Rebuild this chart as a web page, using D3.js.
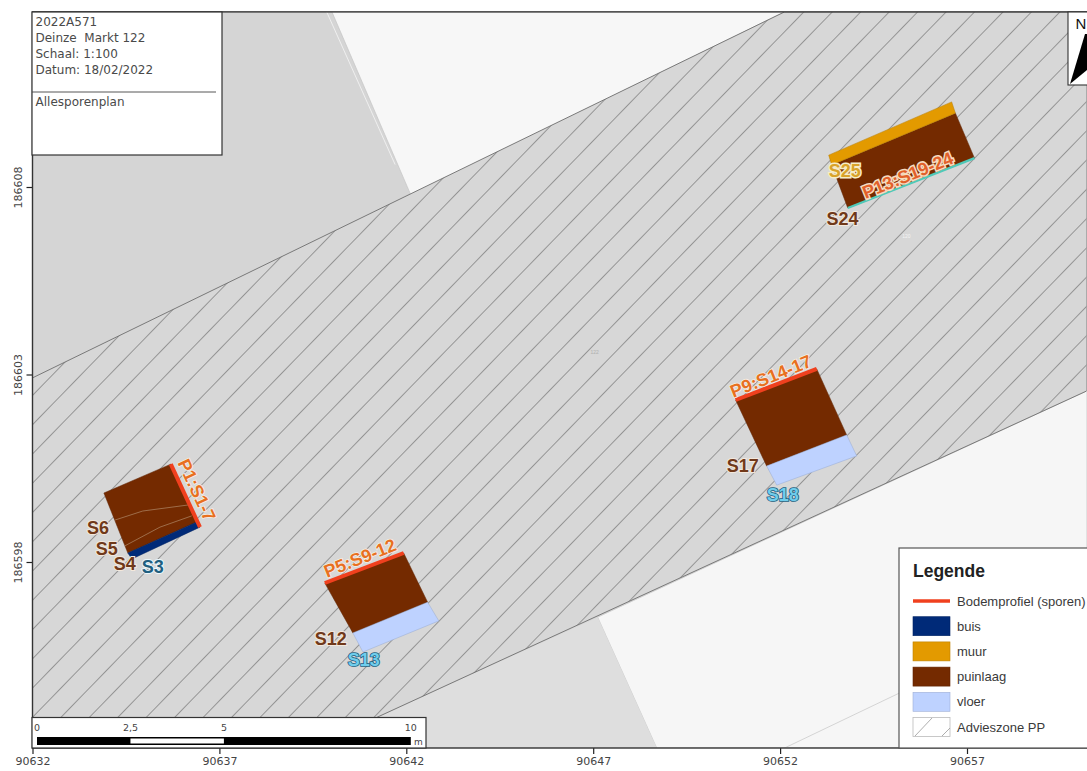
<!DOCTYPE html>
<html>
<head>
<meta charset="utf-8">
<script src="https://cdn.jsdelivr.net/npm/d3@7"></script>
<style>
  body { margin: 0; background: white; overflow: hidden; }
</style>
</head>
<body>
<div id="mapAttatch"></div>
<script>
// tick values (Lambert coordinates, metres)
const xTicks = [90632, 90637, 90642, 90647, 90652, 90657]
const yTicks = [186598, 186603, 186608]

// map extent
const west = 90632, east = 90660.2, south = 186593.04, north = 186612.67

// parcels and zones, all [x, y] in map coordinates
const adviceZone = [[west, 186602.91], [90652.12, north], [east, north], [east, 186602.56], [90641.24, 186593.87], [90639.42, south], [west, south]]
const whiteTop = [[90640.01, north], [90652.12, north], [90642.12, 186607.79]]
const whiteBottom = [[90647.12, 186596.53], [east, 186602.56], [east, south], [90648.70, south]]
const greyBottom = [[90639.42, south], [90647.12, 186596.53], [90648.70, south]]
const parcelLine = [[90652.12, south], [90655.2, 186594.51], [90658, 186595.8]]
const parcelLine2 = [[90639.87, north], [90641.7, 186608.6]]

// excavated features per trench
const puinlaag = [
    [[90633.91, 186599.84], [90635.70, 186600.61], [90636.40, 186599.07], [90634.55, 186598.24]],
    [[90639.82, 186597.44], [90641.93, 186598.24], [90642.57, 186596.93], [90640.57, 186596.11]],
    [[90650.81, 186602.32], [90652.98, 186603.15], [90653.78, 186601.39], [90651.64, 186600.56]],
    [[90653.38, 186608.59], [90656.69, 186609.97], [90657.20, 186608.77], [90653.81, 186607.44]]
]
const buis = [
    [[90634.55, 186598.24], [90636.40, 186599.07], [90636.48, 186598.93], [90634.66, 186598.08]]
]
const muur = [
    [[90653.30, 186608.85], [90656.59, 186610.27], [90656.69, 186609.97], [90653.38, 186608.59]]
]
const vloer = [
    [[90640.57, 186596.11], [90642.57, 186596.93], [90642.87, 186596.43], [90640.84, 186595.60]],
    [[90651.64, 186600.56], [90653.78, 186601.39], [90654.05, 186600.83], [90651.91, 186600.05]]
]
const profiles = [
    [[90635.70, 186600.61], [90636.48, 186598.93]],
    [[90639.82, 186597.44], [90641.93, 186598.24]],
    [[90650.81, 186602.32], [90652.98, 186603.15]]
]
const s24Line = [[90653.81, 186607.44], [90657.20, 186608.77]]
const s5s6Lines = [
    [[90634.21, 186599.12], [90634.95, 186599.36], [90636.16, 186599.52]],
    [[90634.47, 186598.43], [90635.41, 186598.93], [90636.26, 186599.23]]
]

// labels
const labelNames = ["P1:S1-7", "S6", "S5", "S4", "S3", "P5:S9-12", "S12", "S13", "P9:S14-17", "S17", "S18", "P13:S19-24", "S25", "S24"]
const labelX = [90636.40, 90633.75, 90633.99, 90634.47, 90635.22, 90640.76, 90639.98, 90640.86, 90651.75, 90651.00, 90652.07, 90655.41, 90653.73, 90653.67]
const labelY = [186599.92, 186598.93, 186598.37, 186597.95, 186597.89, 186598.11, 186595.95, 186595.39, 186602.96, 186600.56, 186599.79, 186608.32, 186608.45, 186607.15]
const labelKinds = ["profile", "puin", "puin", "puin", "buis", "profile", "puin", "vloer", "profile", "puin", "vloer", "profile2", "muur", "puin"]

// legend + title block
const legendNames = ["Bodemprofiel (sporen)", "buis", "muur", "puinlaag", "vloer", "Advieszone PP"]
const titleLines = ["2022A571", "Deinze  Markt 122", "Schaal: 1:100", "Datum: 18/02/2022"]
const planName = "Allesporenplan"
const scaleBarTicks = [0, 2.5, 5, 10]

const colors = { profile: "#f0401e", buis: "#002a78", muur: "#e39a00", puin: "#742a00", vloer: "#bed2ff" }
const labelStyle = {
    profile: { fill: "#e8701f", stroke: "#f7efe4", sw: 1.5 },
    profile2: { fill: "#e2602a", stroke: "#f6dcc0", sw: 3 },
    puin: { fill: "#70391a", stroke: "#f3e8dc", sw: 2 },
    buis: { fill: "#1f5f80", stroke: "#eaf6fb", sw: 2 },
    vloer: { fill: "#6fcdec", stroke: "#22607f", sw: 1.6 },
    muur: { fill: "#d9a32a", stroke: "#f6ecc8", sw: 3 }
}
const labelAngle = { "P1:S1-7": 65, "P5:S9-12": -22, "P9:S14-17": -22, "P13:S19-24": -22 }

const svg = d3.select("#mapAttatch").append("svg")
    .attr("width", 1087)
    .attr("height", 771)
    .style("display", "block")
    .style("font-family", "'Liberation Sans', Arial, sans-serif")

const xScale = d3.scaleLinear().domain([90632, 90657]).range([32.5, 967])
const yScale = d3.scaleLinear().domain([186598, 186608]).range([562, 187])

const poly = d3.line().x(d => xScale(d[0])).y(d => yScale(d[1]))
const closed = pts => poly(pts) + "Z"

const frameL = xScale(west), frameR = xScale(east), frameT = yScale(north), frameB = yScale(south)

const defs = svg.append("defs")
defs.append("clipPath").attr("id", "frame-clip")
    .append("rect")
    .attr("x", frameL).attr("y", frameT)
    .attr("width", frameR - frameL).attr("height", frameB - frameT)

const hatch = defs.append("pattern")
    .attr("id", "hatch")
    .attr("patternUnits", "userSpaceOnUse")
    .attr("width", 20.4)
    .attr("height", 20.4)
    .attr("patternTransform", "translate(548,128) rotate(44.2)")
hatch.append("line")
    .attr("x1", 0).attr("x2", 0).attr("y1", 0).attr("y2", 20.4)
    .attr("stroke", "#858585")
    .attr("stroke-width", 1.6)

const map = svg.append("g").attr("clip-path", "url(#frame-clip)")

map.append("rect")
    .attr("x", frameL).attr("y", frameT)
    .attr("width", frameR - frameL).attr("height", frameB - frameT)
    .attr("fill", "#d5d5d5")

map.append("path").attr("d", closed(whiteTop)).attr("fill", "#f7f7f7").attr("stroke", "#c4c4c4").attr("stroke-width", 0.7)
map.append("path").attr("d", closed(whiteBottom)).attr("fill", "#f6f6f6").attr("stroke", "#c8c8c8").attr("stroke-width", 0.7)
map.append("path").attr("d", closed(greyBottom)).attr("fill", "#dedede")
map.append("path").attr("d", poly(parcelLine)).attr("fill", "none").attr("stroke", "#d4d4d4").attr("stroke-width", 1)
map.append("path").attr("d", poly(parcelLine2)).attr("fill", "none").attr("stroke", "#efefef").attr("stroke-width", 1)

map.append("path").attr("d", closed(adviceZone)).attr("fill", "#d7d7d7")
map.append("path").attr("d", closed(adviceZone))
    .attr("fill", "url(#hatch)")
    .attr("stroke", "#6e6e6e")
    .attr("stroke-width", 0.9)

// house numbers of the parcel layer
map.append("text").text("122")
    .attr("x", xScale(90647.04)).attr("y", yScale(186603.55))
    .attr("text-anchor", "middle").attr("font-size", 5).attr("fill", "#b0b0b0")
map.append("text").text("120")
    .attr("x", xScale(90655.38)).attr("y", yScale(186606.64))
    .attr("text-anchor", "middle").attr("font-size", 5).attr("fill", "#f4f4f4")

const drawPolys = (data, color) => {
    map.selectAll(null)
        .data(data)
        .join("path")
        .attr("d", closed)
        .attr("fill", color)
        .attr("stroke", d3.color(color).darker(0.6))
        .attr("stroke-width", 0.5)
}
drawPolys(puinlaag, colors.puin)
drawPolys(vloer, colors.vloer)
drawPolys(muur, colors.muur)
drawPolys(buis, colors.buis)

map.selectAll(null)
    .data(s5s6Lines)
    .join("path")
    .attr("d", poly)
    .attr("fill", "none")
    .attr("stroke", "#b08a68")
    .attr("stroke-width", 0.7)

map.append("path").attr("d", poly(s24Line)).attr("stroke", "#4fc9b8").attr("stroke-width", 2.2).attr("fill", "none")

map.selectAll(null)
    .data(profiles)
    .join("path")
    .attr("d", poly)
    .attr("fill", "none")
    .attr("stroke", colors.profile)
    .attr("stroke-width", 4)

// trench and feature labels
labelNames.forEach((name, i) => {
    const x = xScale(labelX[i]), y = yScale(labelY[i])
    const st = labelStyle[labelKinds[i]]
    map.append("text").text(name)
        .attr("x", x).attr("y", y)
        .attr("dy", "0.36em")
        .attr("text-anchor", "middle")
        .attr("transform", labelAngle[name] ? `rotate(${labelAngle[name]},${x},${y})` : null)
        .attr("font-size", 18)
        .attr("font-weight", "bold")
        .attr("fill", st.fill)
        .attr("stroke", st.stroke)
        .attr("stroke-width", st.sw)
        .style("paint-order", "stroke")
})

// axes
const xAxis = d3.axisBottom(xScale).tickValues(xTicks).tickFormat(d3.format("d")).tickSize(6).tickSizeOuter(0)
const yAxis = d3.axisLeft(yScale).tickValues(yTicks).tickFormat(d3.format("d")).tickSize(6).tickSizeOuter(0)

const xG = svg.append("g").attr("transform", `translate(0,${frameB})`).call(xAxis)
const yG = svg.append("g").attr("transform", `translate(${frameL},0)`).call(yAxis)
xG.select(".domain").remove()
yG.select(".domain").remove()
xG.selectAll("line").attr("stroke", "#222").attr("stroke-width", 1.2)
yG.selectAll("line").attr("stroke", "#222").attr("stroke-width", 1.2)
xG.selectAll("text")
    .attr("y", 9)
    .attr("font-family", "'DejaVu Sans', sans-serif")
    .attr("font-size", 11)
    .attr("fill", "#444")
yG.selectAll("text")
    .attr("x", 0).attr("y", 0)
    .attr("dy", 0)
    .attr("text-anchor", "middle")
    .attr("transform", "translate(-11,0) rotate(-90)")
    .attr("font-family", "'DejaVu Sans', sans-serif")
    .attr("font-size", 11)
    .attr("fill", "#444")

// frame
svg.append("rect")
    .attr("x", frameL).attr("y", frameT)
    .attr("width", frameR - frameL + 5).attr("height", frameB - frameT)
    .attr("fill", "none")
    .attr("stroke", "#333")
    .attr("stroke-width", 1.4)

// title block
const titleG = svg.append("g").attr("font-family", "'DejaVu Sans', sans-serif").attr("fill", "#4a4a4a")
titleG.append("rect")
    .attr("x", 32).attr("y", 12).attr("width", 190).attr("height", 143)
    .attr("fill", "white").attr("stroke", "#333").attr("stroke-width", 1.2)
titleG.selectAll(null)
    .data(titleLines)
    .join("text")
    .text(d => d)
    .attr("x", 35.5)
    .attr("y", (d, i) => 26 + i * 16)
    .attr("font-size", 12)
    .style("white-space", "pre")
titleG.append("line")
    .attr("x1", 32).attr("x2", 216).attr("y1", 92).attr("y2", 92)
    .attr("stroke", "#444").attr("stroke-width", 0.9)
titleG.append("text").text(planName)
    .attr("x", 35.5).attr("y", 106).attr("font-size", 12)

// north arrow
const northG = svg.append("g")
northG.append("rect")
    .attr("x", 1068).attr("y", 12).attr("width", 30).attr("height", 73)
    .attr("fill", "white").attr("stroke", "#333").attr("stroke-width", 1.1)
northG.append("text").text("N")
    .attr("x", 1075.5).attr("y", 29).attr("font-size", 15).attr("fill", "#111")
northG.append("path")
    .attr("d", "M1085,34 L1070,84 L1087,70 L1087,34 Z")
    .attr("fill", "#000")

// scale bar
const barG = svg.append("g").attr("font-family", "'DejaVu Sans', sans-serif").attr("fill", "#444")
const barX = d3.scaleLinear().domain([0, 10]).range([37, 37 + xScale(90642) - xScale(90632)])
barG.append("rect")
    .attr("x", 32).attr("y", 717.5).attr("width", 394).attr("height", 30.5)
    .attr("fill", "white").attr("stroke", "#333").attr("stroke-width", 1.2)
barG.append("rect")
    .attr("x", barX(0)).attr("y", 737).attr("width", barX(10) - barX(0)).attr("height", 8)
    .attr("fill", "#000")
barG.append("rect")
    .attr("x", barX(2.5)).attr("y", 738.5).attr("width", barX(5) - barX(2.5)).attr("height", 5)
    .attr("fill", "#fff")
barG.selectAll(null)
    .data(scaleBarTicks)
    .join("text")
    .text(d => String(d).replace(".", ","))
    .attr("x", d => barX(d))
    .attr("y", 731)
    .attr("text-anchor", "middle")
    .attr("font-size", 9.5)
barG.append("text").text("m")
    .attr("x", 414).attr("y", 745).attr("font-size", 9)

// legend
const legendG = svg.append("g")
const rowY = d3.scalePoint().domain(legendNames).range([601, 727])
legendG.append("rect")
    .attr("x", 899).attr("y", 548).attr("width", 200).attr("height", 200)
    .attr("fill", "white").attr("stroke", "#555").attr("stroke-width", 1.2)
legendG.append("text").text("Legende")
    .attr("x", 913).attr("y", 577)
    .attr("font-size", 17.5).attr("font-weight", "bold").attr("fill", "#222")
legendG.selectAll(null)
    .data(legendNames)
    .join("text")
    .text(d => d)
    .attr("x", 957)
    .attr("y", d => rowY(d) + 4.5)
    .attr("font-size", 13)
    .attr("fill", "#3a3a3a")

legendG.append("line")
    .attr("x1", 913).attr("x2", 950)
    .attr("y1", rowY(legendNames[0])).attr("y2", rowY(legendNames[0]))
    .attr("stroke", colors.profile).attr("stroke-width", 3.5)

const swatchColors = [colors.buis, colors.muur, colors.puin, colors.vloer]
legendG.selectAll(null)
    .data(legendNames.slice(1, 5))
    .join("rect")
    .attr("x", 913).attr("width", 37)
    .attr("y", d => rowY(d) - 9.5).attr("height", 19)
    .attr("fill", (d, i) => swatchColors[i])
    .attr("stroke", (d, i) => d3.color(swatchColors[i]).darker(0.5))
    .attr("stroke-width", 0.6)

const zoneY = rowY(legendNames[5])
legendG.append("rect")
    .attr("x", 913).attr("width", 37).attr("y", zoneY - 9.5).attr("height", 19)
    .attr("fill", "white").attr("stroke", "#bbb").attr("stroke-width", 0.8)
legendG.append("path")
    .attr("d", `M915,${zoneY + 9} L932,${zoneY - 9} M942,${zoneY + 9} L950,${zoneY + 1}`)
    .attr("stroke", "#999").attr("stroke-width", 0.8).attr("fill", "none")
</script>
</body>
</html>
